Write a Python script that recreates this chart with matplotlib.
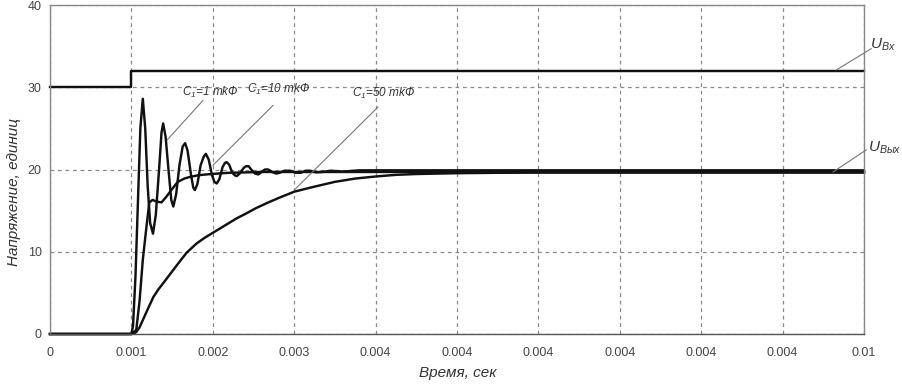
import numpy as np
import matplotlib
matplotlib.use("Agg")
import matplotlib.pyplot as plt

plt.rcParams['font.family'] = ['Liberation Sans', 'DejaVu Sans']
plt.rcParams['mathtext.fontset'] = 'custom'
plt.rcParams['mathtext.it'] = 'Liberation Sans:italic'
plt.rcParams['mathtext.rm'] = 'Liberation Sans:italic'

# x axis ticks (the original labels are rounded oddly, keep them as they are)
x_ticks = [0, 0.001, 0.002, 0.003, 0.004, 0.005, 0.006, 0.007, 0.008, 0.009, 0.01]
x_tick_labels = ['0', '0.001', '0.002', '0.003', '0.004', '0.004',
                 '0.004', '0.004', '0.004', '0.004', '0.01']
y_ticks = [0, 10, 20, 30, 40]

# input voltage, times in ms
t_in = [0.0, 1.0, 1.0, 10.0]
u_in = [30.0, 30.0, 32.0, 32.0]

# output, C1 = 1 mkF
t_c1 = [0.0, 1.0, 1.02, 1.05, 1.08, 1.11, 1.14, 1.17, 1.20, 1.23, 1.265,
        1.30, 1.34, 1.37, 1.39, 1.42, 1.46, 1.49, 1.515, 1.55, 1.59, 1.63,
        1.66, 1.69, 1.73, 1.76, 1.78, 1.81, 1.85, 1.89, 1.915, 1.95, 1.99,
        2.02, 2.048, 2.08, 2.12, 2.15, 2.17, 2.20, 2.24, 2.27, 2.293, 2.33,
        2.38, 2.41, 2.44, 2.48, 2.52, 2.56, 2.60, 2.64, 2.68, 2.73, 2.78,
        2.82, 2.88, 2.95, 3.02, 3.08, 3.14, 3.20, 3.27, 3.35, 3.45, 3.60,
        3.80, 10.0]
u_c1 = [0.0, 0.0, 1.0, 7.0, 16.0, 25.0, 28.6, 25.0, 18.0, 13.5, 12.2,
        14.5, 20.0, 24.5, 25.6, 24.0, 19.5, 16.3, 15.5, 17.0, 20.5, 22.8,
        23.2, 22.3, 19.5, 17.8, 17.5, 18.2, 20.5, 21.6, 21.9, 21.2, 19.3,
        18.5, 18.3, 18.8, 20.3, 20.8, 20.9, 20.6, 19.6, 19.3, 19.2, 19.5,
        20.2, 20.4, 20.4, 19.9, 19.5, 19.4, 19.7, 20.0, 20.0, 19.7, 19.5,
        19.6, 19.85, 19.85, 19.6, 19.6, 19.85, 19.85, 19.65, 19.7, 19.85,
        19.75, 19.9, 19.9]

# output, C1 = 10 mkF
t_c10 = [0.0, 1.0, 1.06, 1.10, 1.14, 1.18, 1.22, 1.26, 1.31, 1.37, 1.43,
         1.49, 1.57, 1.65, 1.72, 1.82, 1.92, 2.05, 2.2, 2.6, 10.0]
u_c10 = [0.0, 0.0, 0.5, 4.0, 9.0, 12.6, 16.0, 16.3, 16.1, 16.0, 16.7,
         17.5, 18.5, 18.9, 19.1, 19.3, 19.4, 19.5, 19.6, 19.7, 19.7]

# output, C1 = 50 mkF
t_c50 = [0.0, 1.0, 1.03, 1.06, 1.1, 1.15, 1.2, 1.27, 1.33, 1.4, 1.5, 1.6,
         1.68, 1.8, 1.9, 2.0, 2.1, 2.2, 2.3, 2.4, 2.53, 2.66, 2.8, 3.0, 3.2,
         3.5, 3.75, 4.0, 4.25, 4.5, 5.0, 5.5, 6.0, 10.0]
u_c50 = [0.0, 0.0, 0.05, 0.25, 0.8, 1.9, 3.0, 4.5, 5.4, 6.3, 7.6, 8.9,
         9.9, 11.0, 11.7, 12.3, 12.9, 13.5, 14.1, 14.6, 15.3, 15.9, 16.5,
         17.3, 17.8, 18.5, 18.9, 19.15, 19.35, 19.45, 19.55, 19.6, 19.62,
         19.62]

fig = plt.figure(figsize=(9.02, 3.84), dpi=100)
ax = fig.add_axes([50 / 902, 1 - 334 / 384, 814 / 902, 329 / 384])

line_kw = dict(color='#111111', lw=1.75, solid_joinstyle='round', clip_on=False)
ax.plot(np.array(t_in) * 1e-3, u_in, **line_kw)
ax.plot(np.array(t_c1) * 1e-3, u_c1, **line_kw)
ax.plot(np.array(t_c10) * 1e-3, u_c10, **line_kw)
ax.plot(np.array(t_c50) * 1e-3, u_c50, **line_kw)

ax.set_xlim(0, 0.01)
ax.set_ylim(0, 40)
ax.set_xticks(x_ticks)
ax.set_xticklabels(x_tick_labels)
ax.set_yticks(y_ticks)
ax.tick_params(length=0, labelsize=9, labelcolor='#444444', pad=6)
ax.tick_params(axis='x', pad=9)
ax.grid(True, color='#8a8a8a', ls=(0, (3, 3)), lw=0.9)
ax.set_axisbelow(True)
for s in ax.spines.values():
    s.set_color('#888888')
    s.set_linewidth(1.0)
ax.spines['bottom'].set_color('#555555')

ax.set_xlabel('Время, сек', fontsize=11, style='italic', color='#333333')
ax.set_ylabel('Напряжение, единиц', fontsize=11, style='italic', color='#333333')
ax.xaxis.set_label_coords(0.501, -0.098)
ax.yaxis.set_label_coords(-0.036, 0.432)

# labels with leader lines
lead = dict(arrowstyle='-', color='#777777', lw=0.8, shrinkA=0, shrinkB=0)
txt = dict(fontsize=8.5, color='#333333', style='italic', va='center')
ax.annotate('', xy=(0.00144, 23.6), xytext=(0.00188, 28.4), arrowprops=lead)
ax.annotate('', xy=(0.0020, 20.5), xytext=(0.00274, 27.8), arrowprops=lead)
ax.annotate('', xy=(0.0030, 17.5), xytext=(0.00403, 27.6), arrowprops=lead)
ax.annotate('', xy=(0.00966, 32.1), xytext=(0.01009, 34.7), arrowprops=lead,
            annotation_clip=False)
ax.annotate('', xy=(0.00962, 19.7), xytext=(0.01003, 22.4), arrowprops=lead,
            annotation_clip=False)
ax.text(0.00162, 29.4, r'$C_1$=1 mkФ', **txt)
ax.text(0.00242, 29.7, r'$C_1$=10 mkФ', **txt)
ax.text(0.00371, 29.3, r'$C_1$=50 mkФ', **txt)
ax.text(0.01007, 35.2, r'$U_{Вх}$', fontsize=11, color='#333333', va='center',
        clip_on=False)
ax.text(0.01005, 22.6, r'$U_{Вых}$', fontsize=11, color='#333333', va='center',
        clip_on=False)

fig.savefig('out.png', dpi=100)
